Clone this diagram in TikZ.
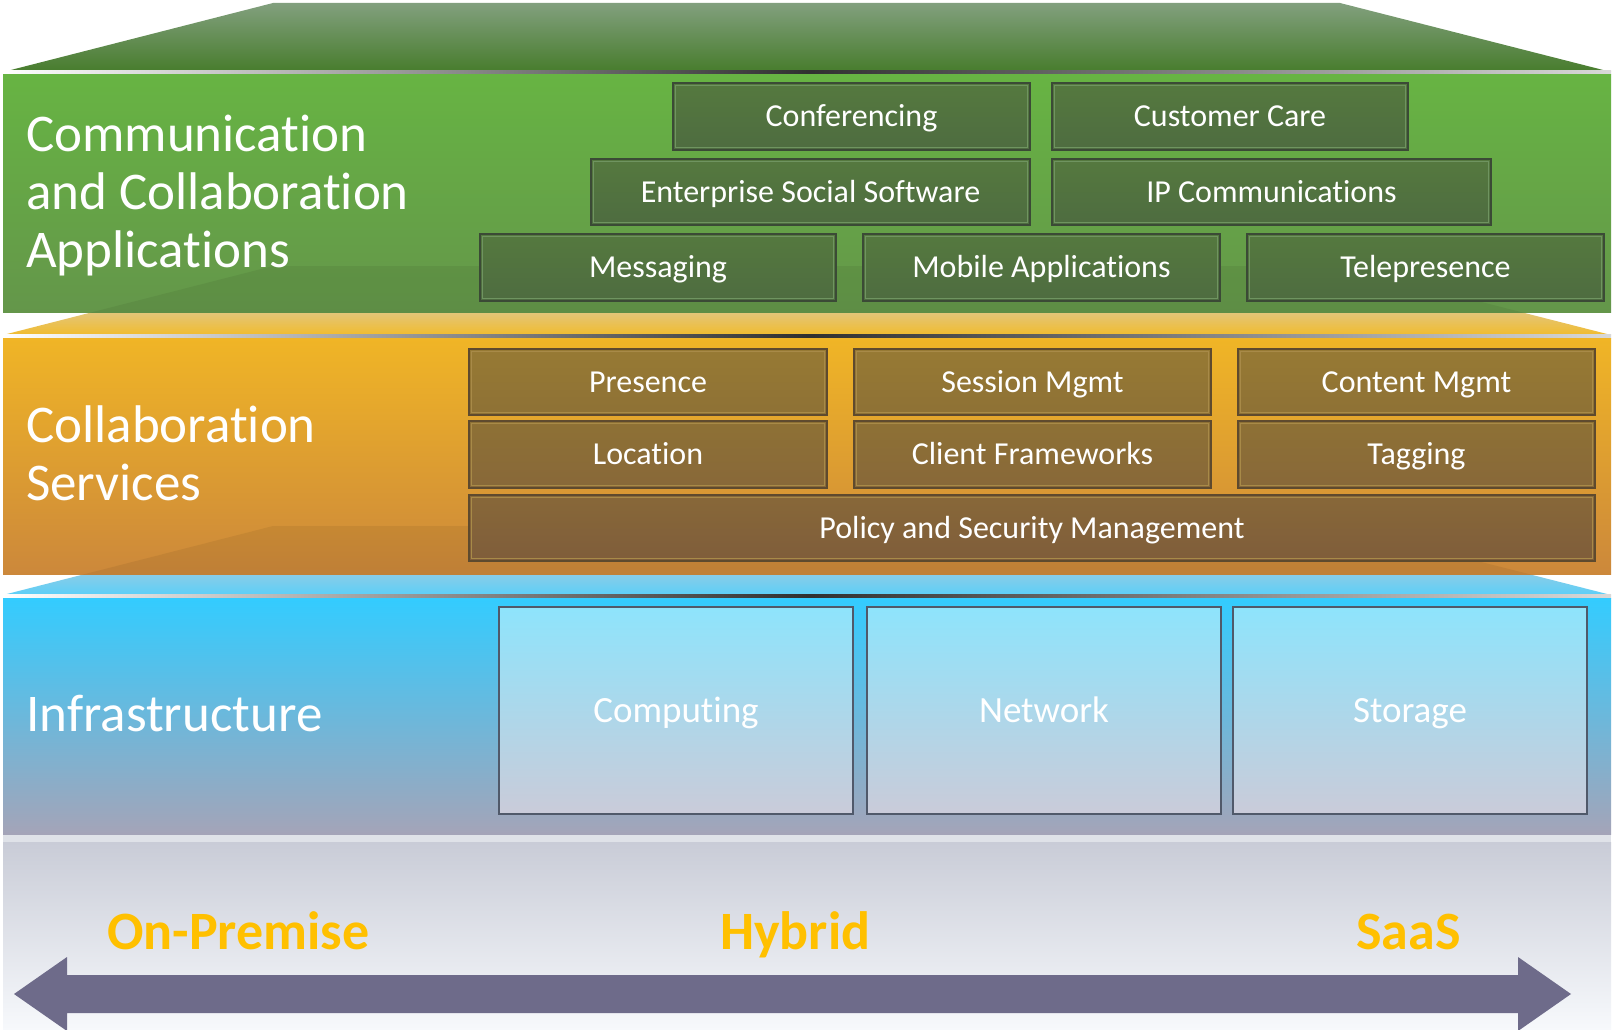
\documentclass[tikz,border=0pt]{standalone}
\usepackage{fontspec}
\setmainfont{Carlito}[Ligatures=NoCommon]
\definecolor{gTrapT}{HTML}{82A07E}
\definecolor{gTrapB}{HTML}{477C2C}
\definecolor{gFrontT}{HTML}{67B443}
\definecolor{gFrontB}{HTML}{64964A}
\definecolor{gBoxT}{HTML}{55793F}
\definecolor{gBoxB}{HTML}{4E6C40}
\definecolor{gEdge}{HTML}{3B4A36}
\definecolor{gInner}{HTML}{6F9460}
\definecolor{yTrapM}{HTML}{DCCAA0}
\definecolor{yTrapB}{HTML}{F1BC2E}
\definecolor{yFrontT}{HTML}{F0B526}
\definecolor{yFrontB}{HTML}{CC883B}
\definecolor{yBoxA}{HTML}{977A34}
\definecolor{yBoxB}{HTML}{8E7135}
\definecolor{yBoxC}{HTML}{886839}
\definecolor{yBoxD}{HTML}{7F5D3A}
\definecolor{yEdge}{HTML}{5E4A2E}
\definecolor{yInner}{HTML}{A88A48}
\definecolor{bTrapM}{HTML}{A6CADC}
\definecolor{bTrapB}{HTML}{5CCFF8}
\definecolor{bFrontT}{HTML}{33CCFF}
\definecolor{bFrontM}{HTML}{70B2D8}
\definecolor{bFrontB}{HTML}{A4A4B8}
\definecolor{bBoxT}{HTML}{8EE4FC}
\definecolor{bBoxB}{HTML}{CACBD9}
\definecolor{bEdge}{HTML}{50596A}
\definecolor{sepDark}{HTML}{303030}
\definecolor{grayBand}{HTML}{DFE2E8}
\definecolor{grayT}{HTML}{C9CCD7}
\definecolor{grayB}{HTML}{F7F9FC}
\definecolor{arrowC}{HTML}{6E6B8A}
\definecolor{labY}{HTML}{FFC000}
\newcommand\layertrap[1]{(3,#1+69) -- (273,#1) -- (1340,#1) -- (1611,#1+69) -- cycle}
\begin{document}
\begin{tikzpicture}[x=1pt,y=-1pt,
  inner line/.style={path picture={\draw[#1, line width=1pt]
     ([xshift=2.5pt,yshift=-2.5pt]path picture bounding box.north west) rectangle
     ([xshift=-2.5pt,yshift=2.5pt]path picture bounding box.south east);}},
  boxbase/.style={inner sep=0pt, text=white, font=\fontsize{32}{38}\selectfont, text height=20.6pt, text depth=0pt},
  gbox/.style={boxbase, draw=gEdge, line width=2pt, top color=gBoxT, bottom color=gBoxB, inner line=gInner},
  ybox/.style 2 args={boxbase, draw=yEdge, line width=2pt, top color=#1, bottom color=#2, inner line=yInner},
  bbox/.style={inner sep=0pt, text=white, font=\fontsize{37}{44}\selectfont, text height=23.8pt, text depth=0pt,
     draw=bEdge, line width=2pt, top color=bBoxT, bottom color=bBoxB, minimum width=354pt, minimum height=207pt},
  head/.style={text=white, font=\fontsize{53}{58}\selectfont, inner sep=0pt, align=left, anchor=base west},
  lab/.style={text=labY, font=\bfseries\fontsize{54}{60}\selectfont, inner sep=0pt, anchor=base west},
  sepline/.style={left color=white, right color=white!85!black, middle color=sepDark}
]
\useasboundingbox (0,0) rectangle (1614,1030);
\fill[white] (0,0) rectangle (1614,1030);

% ---------- bottom zone ----------
\fill[grayBand] (3,834) rectangle (1611,842);
\shade[top color=grayT, bottom color=grayB] (3,842) rectangle (1611,1030);
\fill[arrowC] (14,994) -- (67,957) -- (67,975) -- (1518,975) -- (1518,957) -- (1571,994)
   -- (1518,1031) -- (1518,1013) -- (67,1013) -- (67,1031) -- cycle;
\node[lab] (onprem) at (107,949) {On-Premise};
\node[lab] (hybrid) at (720,949) {Hybrid};
\node[lab] (saas) at (1356,949) {SaaS};

% ---------- blue layer ----------
\shade[top color=bTrapM, bottom color=bTrapB, middle color=bTrapM] \layertrap{526};
\fill[sepline] (3,594) rectangle (1611,598);
\shade[top color=bFrontT, middle color=bFrontM, bottom color=bFrontB] (3,598) rectangle (1611,834);
\node[head] (infra) at (26,731) {Infrastructure};
\node[bbox] (comp) at (676,710.5) {Computing};
\node[bbox] (net) at (1044,710.5) {Network};
\node[bbox] (stor) at (1410,710.5) {Storage};

% ---------- yellow layer ----------
\shade[top color=yTrapM, bottom color=yTrapB, middle color=yTrapM] \layertrap{266};
\fill[sepline] (3,334) rectangle (1611,338);
\shade[top color=yFrontT, bottom color=yFrontB] (3,338) rectangle (1611,574);
\begin{scope}
  \clip (3,338) rectangle (1611,574);
  \fill[black, fill opacity=0.06] \layertrap{526};
\end{scope}
\node[head] (collab) at (26,500) {Collaboration\\Services};
\node[ybox={yBoxA}{yBoxB}, minimum width=358pt, minimum height=66pt] (pres) at (648,382) {Presence};
\node[ybox={yBoxA}{yBoxB}, minimum width=357pt, minimum height=66pt] (sess) at (1032.5,382) {Session Mgmt};
\node[ybox={yBoxA}{yBoxB}, minimum width=357pt, minimum height=66pt] (cont) at (1416.5,382) {Content Mgmt};
\node[ybox={yBoxB}{yBoxC}, minimum width=358pt, minimum height=67pt] (loc) at (648,454.5) {Location};
\node[ybox={yBoxB}{yBoxC}, minimum width=357pt, minimum height=67pt] (cli) at (1032.5,454.5) {Client Frameworks};
\node[ybox={yBoxB}{yBoxC}, minimum width=357pt, minimum height=67pt] (tag) at (1416.5,454.5) {Tagging};
\node[ybox={yBoxC}{yBoxD}, minimum width=1126pt, minimum height=66pt] (pol) at (1032,528) {Policy and Security Management};

% ---------- green layer ----------
\shade[top color=gTrapT, bottom color=gTrapB] \layertrap{3};
\fill[sepline] (3,71) rectangle (1611,75);
\shade[top color=gFrontT, bottom color=gFrontB] (3,75) rectangle (1611,312);
\begin{scope}
  \clip (3,75) rectangle (1611,312);
  \fill[black, fill opacity=0.06] \layertrap{266};
\end{scope}
\node[head] (comm) at (26,267) {Communication\\and Collaboration\\Applications};
\node[gbox, minimum width=357pt, minimum height=67pt] (conf) at (851.5,116.5) {Conferencing};
\node[gbox, minimum width=356pt, minimum height=67pt] (cust) at (1230,116.5) {Customer Care};
\node[gbox, minimum width=439pt, minimum height=66pt] (ess) at (810.5,192) {Enterprise Social Software};
\node[gbox, minimum width=439pt, minimum height=66pt] (ipc) at (1271.5,192) {IP Communications};
\node[gbox, minimum width=356pt, minimum height=67pt] (msg) at (658,267.5) {Messaging};
\node[gbox, minimum width=357pt, minimum height=67pt] (mob) at (1041.5,267.5) {Mobile Applications};
\node[gbox, minimum width=357pt, minimum height=67pt] (tele) at (1425.5,267.5) {Telepresence};
\end{tikzpicture}
\end{document}
